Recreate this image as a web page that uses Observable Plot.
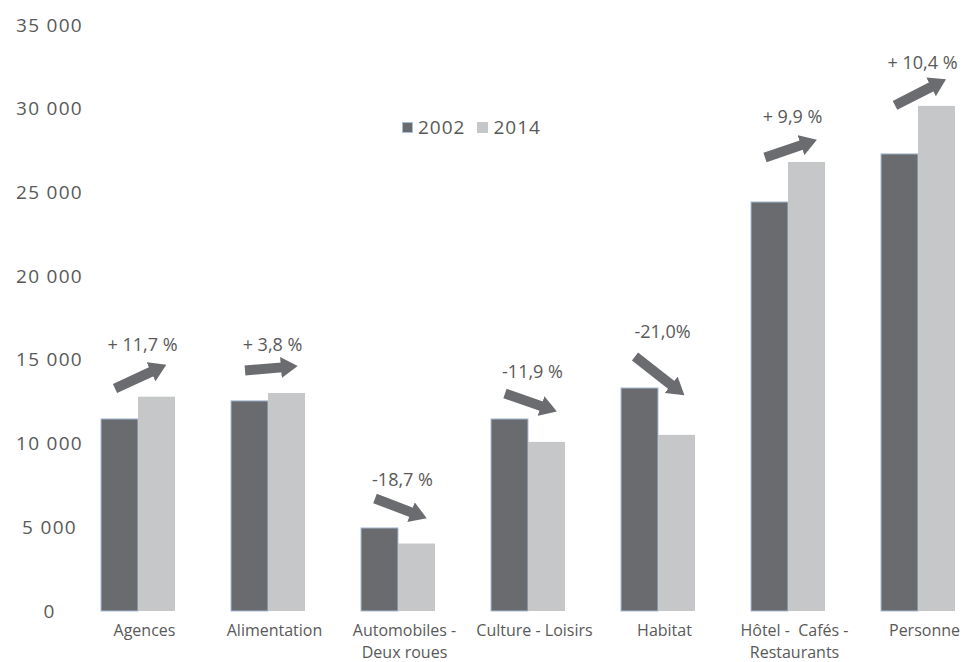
<!DOCTYPE html>
<html>
<head>
<meta charset="utf-8">
<script src="https://cdn.jsdelivr.net/npm/d3@7"></script>
<script src="https://cdn.jsdelivr.net/npm/@observablehq/plot@0.6"></script>
<style>
  body { margin: 0; background: #fff; }
  #wrap { position: relative; width: 968px; height: 662px; }
  #legend { position: absolute; left: 402px; top: 114px; font: 19px "Open Sans", sans-serif; color: #595959; letter-spacing: 1px; display: flex; align-items: center; white-space: nowrap; }
  #legend .item { display: flex; align-items: center; margin-right: 12px; }
  #legend .sw { display: inline-block; width: 11px; height: 11px; margin-right: 5px; box-sizing: border-box; }
  #chart g[aria-label^="y-axis"] text { font: 19px "Open Sans", sans-serif; letter-spacing: 1.3px; fill: #595959; text-anchor: middle; }
</style>
</head>
<body>
<div id="wrap">
  <div id="chart"></div>
  <div id="legend"></div>
</div>
<script>
const categories = ["Agences", "Alimentation", "Automobiles - Deux roues", "Culture - Loisirs", "Habitat", "Hôtel - Cafés - Restaurants", "Personne"];
const categoryLabels = ["Agences", "Alimentation", "Automobiles -\nDeux roues", "Culture - Loisirs", "Habitat", "Hôtel -  Cafés -\nRestaurants", "Personne"];
const years = ["2002", "2014"];
const values2002 = [11470, 12550, 4960, 11470, 13320, 24430, 27300];
const values2014 = [12800, 13020, 4030, 10100, 10520, 26820, 30170];
const changeLabels = ["+ 11,7 %", "+ 3,8 %", "-18,7 %", "-11,9 %", "-21,0%", "+ 9,9 %", "+ 10,4 %"];
// annotation anchors (in data units)
const changeLabelY = [15890, 15890, 7830, 14280, 16670, 29510, 32740];
const arrowFrom = [13320, 14400, 6750, 13020, 15230, 27120, 30230];
const arrowTo = [14340, 14580, 5910, 12250, 13500, 27870, 31360];
const yTicks = [0, 5000, 10000, 15000, 20000, 25000, 30000, 35000];
const yTickLabels = ["0", "5 000", "10 000", "15 000", "20 000", "25 000", "30 000", "35 000"];

const colors = ["#6a6b6f", "#c6c7c9"];
const textColor = "#595959";

const bars = categories.flatMap((c, i) => [
  {cat: c, year: years[0], value: values2002[i]},
  {cat: c, year: years[1], value: values2014[i]}
]);
const annots = categories.map((c, i) => ({
  cat: c, label: changeLabels[i], ly: changeLabelY[i], from: arrowFrom[i], to: arrowTo[i], catLabel: categoryLabels[i]
}));

const chart = Plot.plot({
  width: 968,
  height: 662,
  marginTop: 25,
  marginBottom: 51,
  marginLeft: 88,
  marginRight: 0,
  style: {fontFamily: "Open Sans, sans-serif", background: "white", color: textColor, overflow: "visible"},
  fx: {domain: categories, paddingInner: 0.431, paddingOuter: 0.1, axis: null, label: null},
  x: {domain: years, padding: 0, axis: null},
  y: {domain: [0, 35000], ticks: yTicks, tickFormat: d => yTickLabels[yTicks.indexOf(d)], tickSize: 0, tickPadding: 52, label: null, axis: "left"},
  color: {domain: years, range: colors},
  marks: [
    Plot.barY(bars.filter(d => d.year === years[0]), {fx: "cat", x: "year", y: "value", fill: "year", stroke: "#a9bed8", strokeWidth: 1}),
    Plot.barY(bars.filter(d => d.year === years[1]), {fx: "cat", x: "year", y: "value", fill: "year"}),
    Plot.link(annots, {fx: "cat", x1: () => years[0], x2: () => years[1], y1: "from", y2: "to", stroke: "#6b6c70", strokeWidth: 10, dx: -5}),
    Plot.text(annots, {fx: "cat", y: "ly", text: "label", fontSize: 18, fill: textColor, dx: 4}),
    Plot.text(annots, {fx: "cat", text: "catLabel", frameAnchor: "bottom", lineAnchor: "top", dy: 9, dx: 6, fontSize: 16, lineHeight: 1.38, fill: textColor})
  ]
});

document.getElementById("chart").appendChild(chart);

// filled arrowheads on the link marks
const svg = d3.select(chart);
const marker = svg.insert("defs", ":first-child").append("marker")
  .attr("id", "ah").attr("viewBox", "0 -10 16 20").attr("refX", 1).attr("refY", 0)
  .attr("markerWidth", 17).attr("markerHeight", 21).attr("markerUnits", "userSpaceOnUse").attr("orient", "auto");
marker.append("path").attr("d", "M0,-10L16,0L0,10Z").attr("fill", "#6b6c70");
svg.selectAll('g[aria-label="link"] path').attr("marker-end", "url(#ah)");

// legend
const legend = d3.select("#legend");
years.forEach((y, i) => {
  const item = legend.append("div").attr("class", "item");
  item.append("span").attr("class", "sw").style("background", colors[i]).style("border", i === 0 ? "1px solid #a9bed8" : "none");
  item.append("span").text(y);
});
</script>
</body>
</html>
